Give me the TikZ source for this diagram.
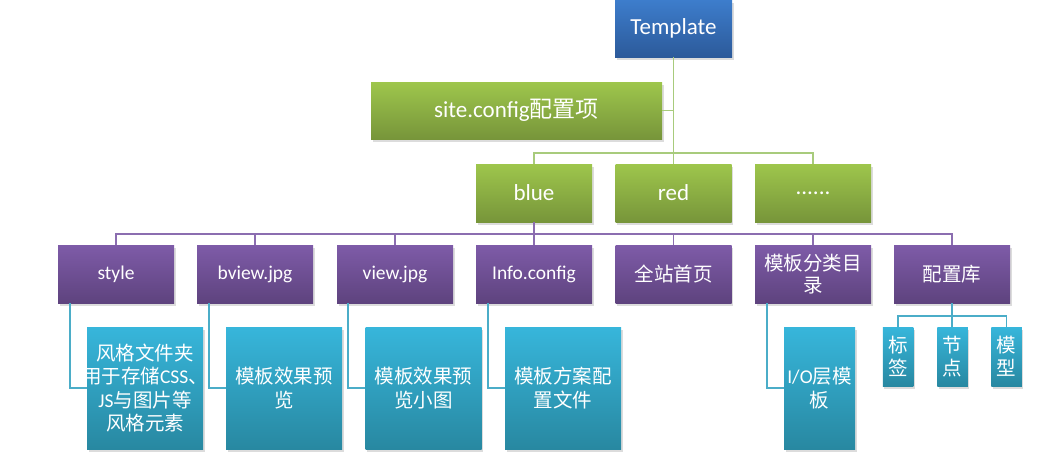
\documentclass[tikz,border=0pt]{standalone}
\usepackage{fontspec}
\setmainfont{Carlito}
\newfontfamily\cjk{Noto Sans CJK SC}
\usetikzlibrary{shadows}
\newcommand\zh[1]{{\cjk #1}}
\definecolor{tbT}{HTML}{3D7DCC}
\definecolor{tbB}{HTML}{2C5A9A}
\definecolor{grT}{HTML}{9EC64C}
\definecolor{grB}{HTML}{77953A}
\definecolor{puT}{HTML}{7E5BA8}
\definecolor{puB}{HTML}{5E437E}
\definecolor{cyT}{HTML}{37B6DB}
\definecolor{cyB}{HTML}{2888A1}
\definecolor{lnG}{HTML}{A8CB7C}
\definecolor{lnP}{HTML}{8B6DB0}
\definecolor{lnC}{HTML}{4BADC8}
\tikzset{
  box/.style={inner sep=0pt, text=white, align=center,
    drop shadow={opacity=0.28, shadow xshift=1.5pt, shadow yshift=-2.5pt}},
  bigtxt/.style={font=\fontsize{23}{27}\selectfont},
  smalltxt/.style={font=\fontsize{19.5}{23.3}\selectfont},
  bluebox/.style={box, bigtxt, top color=tbT, bottom color=tbB, minimum width=117pt, minimum height=57pt},
  greenbox/.style={box, bigtxt, top color=grT, bottom color=grB, minimum width=116pt, minimum height=58pt},
  purplebox/.style={box, smalltxt, top color=puT, bottom color=puB, minimum width=116pt, minimum height=58pt},
  cyanbox/.style={box, smalltxt, top color=cyT, bottom color=cyB, minimum width=116pt, minimum height=122pt},
  tinybox/.style={box, smalltxt, top color=cyT, bottom color=cyB, minimum width=30.5pt, minimum height=59pt},
  glink/.style={draw=lnG, line width=1.6pt},
  plink/.style={draw=lnP, line width=1.6pt},
  clink/.style={draw=lnC, line width=1.6pt},
  plain/.style={inner sep=0pt, text=white, align=center, smalltxt}
}
\begin{document}
\begin{tikzpicture}[x=1pt,y=1pt]
\useasboundingbox (0,0) rectangle (1062,-467);
% connectors first
\coordinate (gbar) at (673.5,-153);
\coordinate (pbar) at (534,-234);
\coordinate (cbar) at (952,-316);
% nodes
\node[bluebox] (T) at (673.5,-28.5) {Template};
\node[greenbox, minimum width=291pt, minimum height=57pt] (site) at (516.5,-110.5) {site.config\zh{配置项}};
\node[greenbox] (blue) at (534,-193) {blue};
\node[greenbox] (red) at (673.5,-193) {red};
\node[greenbox] (dots) at (813,-193) {......};
\node[purplebox] (style) at (116,-274) {style};
\node[purplebox] (bview) at (255,-274) {bview.jpg};
\node[purplebox] (view) at (395,-274) {view.jpg};
\node[purplebox] (info) at (534,-274) {Info.config};
\node[purplebox] (home) at (673.5,-274) {\zh{全站首页}};
\node[purplebox, font=\fontsize{19.5}{22}\selectfont] (cat) at (813,-274) {\zh{模板分类目}\\\zh{录}};
\node[purplebox] (lib) at (952,-274) {\zh{配置库}};
\node[cyanbox] (stylec) at (145,-388) {};
\node[plain] (stylet) at (stylec.center) {\zh{风格文件夹}\\\zh{用于存储}CSS\zh{、}\\JS\zh{与图片等}\\\zh{风格元素}};
\node[cyanbox] (bviewc) at (284,-388) {\zh{模板效果预}\\\zh{览}};
\node[cyanbox] (viewc) at (423.5,-388) {\zh{模板效果预}\\\zh{览小图}};
\node[cyanbox] (infoc) at (563,-388) {\zh{模板方案配}\\\zh{置文件}};
\node[cyanbox, minimum width=71pt] (catc) at (819.5,-388) {I/O\zh{层模}\\\zh{板}};
\node[tinybox] (bq) at (898,-356.5) {\zh{标}\\\zh{签}};
\node[tinybox] (jd) at (952.5,-356.5) {\zh{节}\\\zh{点}};
\node[tinybox] (mx) at (1006.5,-356.5) {\zh{模}\\\zh{型}};
% green links
\begin{scope}[on background layer/.style={}]
\end{scope}
\draw[glink] (T.south) |- (site.east);
\draw[glink] (T.south) -- (red.north);
\draw[glink] (blue.north) |- (gbar) -| (dots.north);
% purple links
\draw[plink] (blue.south) -- (info.north);
\draw[plink] (style.north) |- (pbar) -| (lib.north);
\foreach \n in {bview,view,home,cat}{
  \draw[plink] (\n.north) -- (\n.north |- pbar);
}
% cyan links
\draw[clink] ([xshift=12pt]style.south west) |- (stylec.west);
\draw[clink] ([xshift=12pt]bview.south west) |- (bviewc.west);
\draw[clink] ([xshift=11pt]view.south west) |- (viewc.west);
\draw[clink] ([xshift=12pt]info.south west) |- (infoc.west);
\draw[clink] ([xshift=12pt]cat.south west) |- (catc.west);
\draw[clink] (lib.south) -- (lib.south |- jd.north);
\draw[clink] (bq.north) |- (cbar) -| (mx.north);
\end{tikzpicture}
\end{document}
